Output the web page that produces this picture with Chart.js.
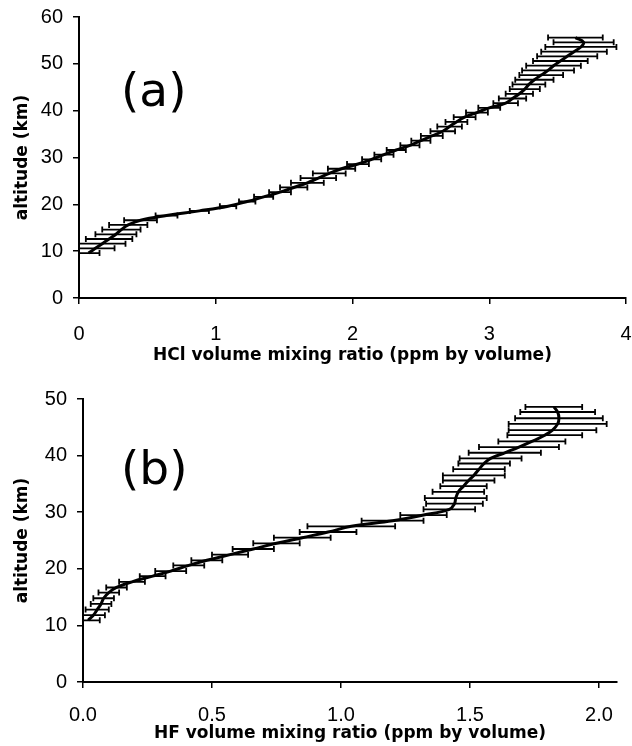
<!DOCTYPE html>
<html>
<head>
<meta charset="utf-8">
<script src="https://cdn.jsdelivr.net/npm/chart.js@4.4.1/dist/chart.umd.min.js"></script>
<style>
  html, body { margin: 0; padding: 0; background: #fff; }
  canvas { display: block; }
</style>
</head>
<body>
<canvas id="hclChart" width="632" height="373"></canvas>
<canvas id="hfChart" width="632" height="373"></canvas>
<script>
// (a) HCl profile: altitude (km), mixing ratio (ppmv), error half-width (ppmv)
const hclAltitude = [9.6, 10.6, 11.6, 12.6, 13.6, 14.6, 15.6, 16.6, 17.6, 18.6, 19.6, 20.6, 21.6, 22.6, 23.6, 24.6,
  25.6, 26.6, 27.6, 28.6, 29.6, 30.6, 31.6, 32.6, 33.6, 34.6, 35.6, 36.6, 37.6, 38.6, 39.6, 40.6,
  41.6, 42.6, 43.6, 44.6, 45.6, 46.6, 47.6, 48.6, 49.6, 50.6, 51.6, 52.6, 53.6, 54.6, 55.6];
const hclRatio = [0.07, 0.12, 0.17, 0.22, 0.27, 0.31, 0.36, 0.45, 0.64, 0.88, 1.09, 1.23, 1.35, 1.47, 1.57, 1.67,
  1.75, 1.83, 1.92, 2.04, 2.14, 2.23, 2.32, 2.42, 2.50, 2.58, 2.66, 2.71, 2.76, 2.82, 2.91, 3.00,
  3.12, 3.17, 3.22, 3.26, 3.29, 3.33, 3.38, 3.43, 3.47, 3.52, 3.57, 3.62, 3.67, 3.69, 3.63];
const hclError = [0.08, 0.14, 0.17, 0.17, 0.15, 0.14, 0.14, 0.12, 0.08, 0.07, 0.06, 0.06, 0.07, 0.08, 0.10, 0.12,
  0.13, 0.12, 0.10, 0.08, 0.07, 0.07, 0.07, 0.07, 0.07, 0.08, 0.09, 0.09, 0.08, 0.08, 0.08, 0.08,
  0.09, 0.10, 0.10, 0.11, 0.12, 0.14, 0.16, 0.19, 0.20, 0.20, 0.22, 0.24, 0.26, 0.22, 0.20];
const hclTicks = [0, 1, 2, 3, 4];

// (b) HF profile
const hfAltitude = [10.9, 11.8, 12.8, 13.8, 14.8, 15.8, 16.7, 17.7, 18.7, 19.6, 20.6, 21.5, 22.5, 23.5, 24.5, 25.5,
  26.5, 27.5, 28.5, 29.5, 30.5, 31.5, 32.5, 33.6, 34.6, 35.6, 36.5, 37.6, 38.6, 39.5, 40.5, 41.5,
  42.5, 43.6, 44.5, 45.6, 46.6, 47.7, 48.6];
const hfRatio = [0.02, 0.04, 0.055, 0.07, 0.08, 0.10, 0.13, 0.19, 0.27, 0.34, 0.41, 0.48, 0.57, 0.66, 0.75, 0.85,
  0.95, 1.04, 1.20, 1.32, 1.42, 1.44, 1.445, 1.455, 1.475, 1.495, 1.515, 1.535, 1.555, 1.58, 1.635, 1.69,
  1.74, 1.79, 1.82, 1.84, 1.845, 1.84, 1.825];
const hfError = [0.045, 0.045, 0.045, 0.04, 0.04, 0.04, 0.04, 0.05, 0.05, 0.06, 0.06, 0.06, 0.07, 0.08, 0.09, 0.11,
  0.11, 0.17, 0.12, 0.09, 0.10, 0.11, 0.12, 0.10, 0.09, 0.10, 0.12, 0.10, 0.10, 0.12, 0.14, 0.155,
  0.13, 0.145, 0.17, 0.19, 0.17, 0.145, 0.11];
const hfTicks = [0, 0.5, 1, 1.5, 2];

const tickFont = { family: '"Liberation Sans", Arial, sans-serif', size: 20 };
const titleFont = { family: '"DejaVu Sans", sans-serif', size: 17, weight: 'bold' };

// horizontal error bars with end caps, positioned through the chart scales
const errorBars = {
  id: 'errorBars',
  beforeDatasetsDraw(chart) {
    const { ctx, chartArea, scales: { x, y } } = chart;
    const ds = chart.data.datasets[0];
    ctx.save();
    ctx.beginPath();
    ctx.rect(chartArea.left, chartArea.top - 5, chartArea.width + 10, chartArea.height + 5);
    ctx.clip();
    ctx.strokeStyle = '#000';
    ctx.lineWidth = 1.8;
    ds.data.forEach((p, i) => {
      const e = ds.errors[i];
      const x0 = x.getPixelForValue(p.x - e);
      const x1 = x.getPixelForValue(p.x + e);
      const py = y.getPixelForValue(p.y);
      ctx.beginPath();
      ctx.moveTo(x0, py); ctx.lineTo(x1, py);
      ctx.moveTo(x0, py - 3); ctx.lineTo(x0, py + 3);
      ctx.moveTo(x1, py - 3); ctx.lineTo(x1, py + 3);
      ctx.stroke();
    });
    ctx.restore();
  }
};

const panelLabel = {
  id: 'panelLabel',
  afterDraw(chart, args, opts) {
    const ctx = chart.ctx;
    ctx.save();
    ctx.font = '47px "DejaVu Sans"';
    ctx.fillStyle = '#000';
    ctx.textBaseline = 'alphabetic';
    ctx.fillText(opts.text, opts.x, opts.y);
    ctx.restore();
  }
};

function profileChart(id, alt, ratio, err, o) {
  return new Chart(document.getElementById(id), {
    type: 'line',
    data: {
      datasets: [{
        data: alt.map((a, i) => ({ x: ratio[i], y: a })),
        errors: err,
        borderColor: '#000',
        borderWidth: 3,
        pointRadius: 0,
        tension: 0.4,
        fill: false
      }]
    },
    options: {
      responsive: false,
      animation: false,
      layout: { padding: o.padding },
      plugins: {
        legend: { display: false },
        tooltip: { enabled: false },
        panelLabel: o.label
      },
      scales: {
        x: {
          type: 'linear',
          min: 0,
          max: o.xMax,
          afterBuildTicks: s => { s.ticks = o.xTicks.map(v => ({ value: v })); },
          afterFit: s => { s.height = o.xHeight; s.paddingLeft = 0; s.paddingRight = 0; },
          ticks: { color: '#000', font: tickFont, padding: o.xPad, maxRotation: 0, autoSkip: false, callback: o.xFmt },
          grid: { drawOnChartArea: false, drawTicks: true, tickLength: 6, color: '#000', lineWidth: 1.5 },
          border: { display: true, color: '#000', width: 2 },
          title: { display: true, text: o.xTitle, color: '#000', font: titleFont, padding: { top: 0, bottom: o.xTitlePad } }
        },
        y: {
          type: 'linear',
          min: 0,
          max: o.yMax,
          afterFit: s => { s.width = o.yWidth; s.paddingTop = 0; s.paddingBottom = 0; },
          ticks: { stepSize: 10, color: '#000', font: tickFont, padding: 10 },
          grid: { drawOnChartArea: false, drawTicks: true, tickLength: 6, color: '#000', lineWidth: 1.5 },
          border: { display: true, color: '#000', width: 2 },
          title: { display: true, text: 'altitude (km)', color: '#000', font: titleFont, padding: { top: 12, bottom: 0 } }
        }
      }
    },
    plugins: [errorBars, panelLabel]
  });
}

profileChart('hclChart', hclAltitude, hclRatio, hclError, {
  padding: { top: 17, right: 6, bottom: 0, left: 0 },
  xMax: 4, xTicks: hclTicks, xFmt: v => String(v),
  xHeight: 75, xPad: 18, xTitlePad: 7, yWidth: 79, yMax: 60,
  xTitle: 'HCl volume mixing ratio (ppm by volume)',
  label: { text: '(a)', x: 121, y: 106 }
});

profileChart('hfChart', hfAltitude, hfRatio, hfError, {
  padding: { top: 26, right: 15, bottom: 0, left: 0 },
  xMax: 2.07, xTicks: hfTicks, xFmt: v => v.toFixed(1),
  xHeight: 64, xPad: 15, xTitlePad: 2, yWidth: 83, yMax: 50,
  xTitle: 'HF volume mixing ratio (ppm by volume)',
  label: { text: '(b)', x: 121, y: 111 }
});
</script>
</body>
</html>
